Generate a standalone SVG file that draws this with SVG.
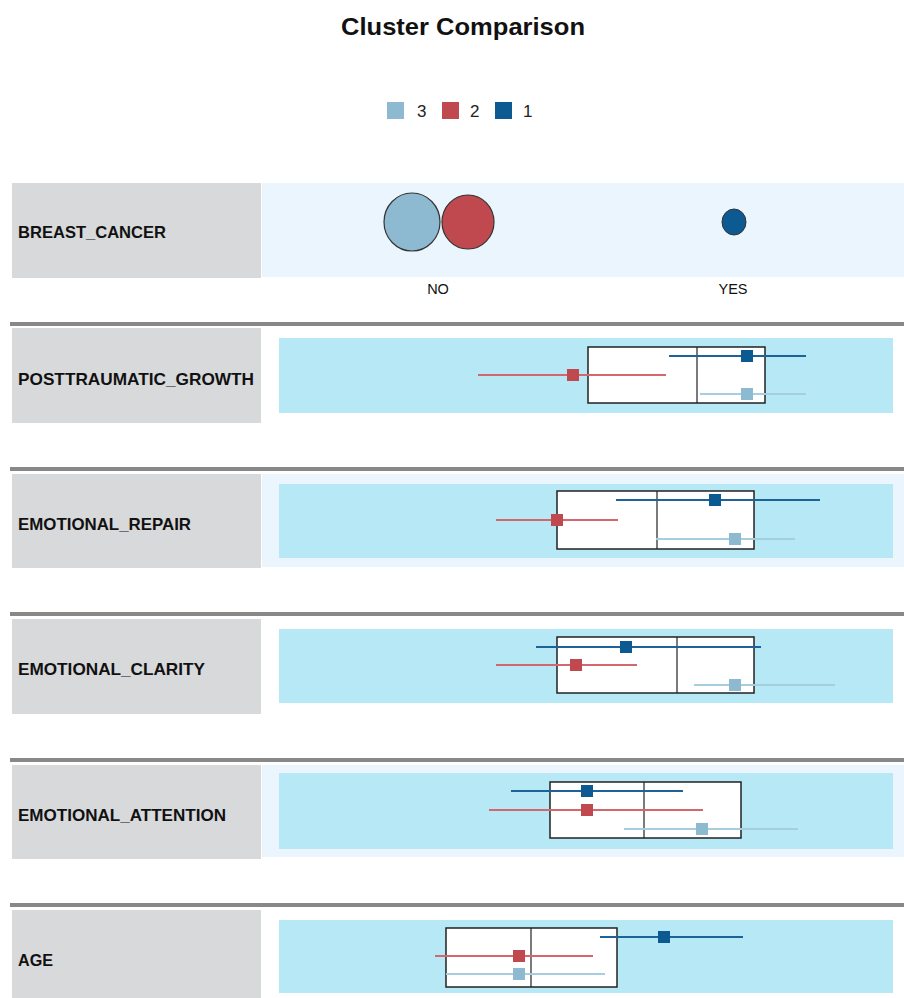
<svg xmlns="http://www.w3.org/2000/svg" width="904" height="998" viewBox="0 0 904 998">
<style>
.title{font-family:"Liberation Sans",Arial,sans-serif;font-weight:bold;font-size:24px;fill:#111}
.leg{font-family:"Liberation Sans",Arial,sans-serif;font-size:17px;fill:#222}
.lab{font-family:"Liberation Sans",Arial,sans-serif;font-weight:bold;font-size:16.5px;fill:#111}
.cat{font-family:"Liberation Sans",Arial,sans-serif;font-size:14.5px;fill:#111}
.lbox{fill:#d8d9db}
.outer{fill:#eaf5fd}
.inner{fill:#b7e8f6}
.sep{stroke:#888;stroke-width:4}
.box{fill:#fff;stroke:#222;stroke-width:1.5}
.div{stroke:#222;stroke-width:1.2}
.l1{stroke:#1d6299;stroke-width:2}
.l2{stroke:#d2686e;stroke-width:2}
.l3{stroke:#a6cde0;stroke-width:2}
.c1{fill:#0d5a92}
.c2{fill:#c0484f}
.c3{fill:#8dbad0}
</style>
<text class="title" x="463" y="35" text-anchor="middle" textLength="244" lengthAdjust="spacingAndGlyphs">Cluster Comparison</text>
<g id="legend">
<rect class="c3" x="387" y="102" width="17" height="17"/><text class="leg" x="417" y="117">3</text>
<rect class="c2" x="442" y="102" width="17" height="17"/><text class="leg" x="470" y="117">2</text>
<rect class="c1" x="495" y="102" width="17" height="17"/><text class="leg" x="523" y="117">1</text>
</g>
<g id="separators">
<line class="sep" x1="10" y1="324" x2="904" y2="324"/>
<line class="sep" x1="10" y1="469" x2="904" y2="469"/>
<line class="sep" x1="10" y1="614" x2="904" y2="614"/>
<line class="sep" x1="10" y1="760" x2="904" y2="760"/>
<line class="sep" x1="10" y1="905" x2="904" y2="905"/>
</g>
<g id="breast_cancer">
<rect class="lbox" x="12" y="183" width="249" height="95"/>
<rect class="outer" x="262" y="183" width="642" height="94"/>
<text class="lab" x="18" y="238" textLength="148" lengthAdjust="spacingAndGlyphs">BREAST_CANCER</text>
<ellipse class="c3" cx="412" cy="222" rx="28" ry="29" stroke="#333" stroke-width="1.2"/>
<ellipse class="c2" cx="468" cy="222" rx="26" ry="27" stroke="#333" stroke-width="1.2"/>
<ellipse class="c1" cx="734" cy="222" rx="12" ry="13" stroke="#333" stroke-width="1"/>
<text class="cat" x="438" y="294" text-anchor="middle">NO</text>
<text class="cat" x="733" y="294" text-anchor="middle">YES</text>
</g>
<g id="posttraumatic_growth">
<rect class="lbox" x="12" y="328" width="249" height="95"/>
<text class="lab" x="18" y="385" textLength="236" lengthAdjust="spacingAndGlyphs">POSTTRAUMATIC_GROWTH</text>
<rect class="inner" x="279" y="338" width="614" height="75"/>
<rect class="box" x="588" y="347" width="177" height="56"/>
<line class="div" x1="697" y1="347" x2="697" y2="403"/>
<line class="l1" x1="669" y1="356" x2="806" y2="356"/><rect class="c1" x="741" y="350" width="12" height="12"/>
<line class="l2" x1="478" y1="375" x2="666" y2="375"/><rect class="c2" x="567" y="369" width="12" height="12"/>
<line class="l3" x1="700" y1="394" x2="806" y2="394"/><rect class="c3" x="741" y="388" width="12" height="12"/>
</g>
<g id="emotional_repair">
<rect class="lbox" x="12" y="474" width="249" height="94"/>
<rect class="outer" x="262" y="474" width="642" height="93"/>
<text class="lab" x="18" y="530" textLength="173" lengthAdjust="spacingAndGlyphs">EMOTIONAL_REPAIR</text>
<rect class="inner" x="279" y="484" width="614" height="74"/>
<rect class="box" x="557" y="491" width="197" height="58"/>
<line class="div" x1="657" y1="491" x2="657" y2="549"/>
<line class="l1" x1="616" y1="500" x2="820" y2="500"/><rect class="c1" x="709" y="494" width="12" height="12"/>
<line class="l2" x1="496" y1="520" x2="618" y2="520"/><rect class="c2" x="551" y="514" width="12" height="12"/>
<line class="l3" x1="656" y1="539" x2="795" y2="539"/><rect class="c3" x="729" y="533" width="12" height="12"/>
</g>
<g id="emotional_clarity">
<rect class="lbox" x="12" y="619" width="249" height="95"/>
<text class="lab" x="18" y="675" textLength="187" lengthAdjust="spacingAndGlyphs">EMOTIONAL_CLARITY</text>
<rect class="inner" x="279" y="629" width="614" height="74"/>
<rect class="box" x="557" y="637" width="197" height="56"/>
<line class="div" x1="677" y1="637" x2="677" y2="693"/>
<line class="l1" x1="536" y1="647" x2="761" y2="647"/><rect class="c1" x="620" y="641" width="12" height="12"/>
<line class="l2" x1="496" y1="665" x2="637" y2="665"/><rect class="c2" x="570" y="659" width="12" height="12"/>
<line class="l3" x1="694" y1="685" x2="835" y2="685"/><rect class="c3" x="729" y="679" width="12" height="12"/>
</g>
<g id="emotional_attention">
<rect class="lbox" x="12" y="765" width="249" height="94"/>
<rect class="outer" x="262" y="765" width="642" height="92"/>
<text class="lab" x="18" y="821" textLength="208" lengthAdjust="spacingAndGlyphs">EMOTIONAL_ATTENTION</text>
<rect class="inner" x="279" y="773" width="614" height="76"/>
<rect class="box" x="550" y="782" width="191" height="56"/>
<line class="div" x1="644" y1="782" x2="644" y2="838"/>
<line class="l1" x1="511" y1="791" x2="683" y2="791"/><rect class="c1" x="581" y="785" width="12" height="12"/>
<line class="l2" x1="489" y1="810" x2="703" y2="810"/><rect class="c2" x="581" y="804" width="12" height="12"/>
<line class="l3" x1="624" y1="829" x2="798" y2="829"/><rect class="c3" x="696" y="823" width="12" height="12"/>
</g>
<g id="age">
<rect class="lbox" x="12" y="910" width="249" height="88"/>
<text class="lab" x="18" y="966" textLength="35" lengthAdjust="spacingAndGlyphs">AGE</text>
<rect class="inner" x="279" y="920" width="614" height="73"/>
<rect class="box" x="446" y="928" width="171" height="59"/>
<line class="div" x1="531" y1="928" x2="531" y2="987"/>
<line class="l1" x1="600" y1="937" x2="743" y2="937"/><rect class="c1" x="658" y="931" width="12" height="12"/>
<line class="l2" x1="435" y1="956" x2="593" y2="956"/><rect class="c2" x="513" y="950" width="12" height="12"/>
<line class="l3" x1="446" y1="974" x2="605" y2="974"/><rect class="c3" x="513" y="968" width="12" height="12"/>
</g>
</svg>
